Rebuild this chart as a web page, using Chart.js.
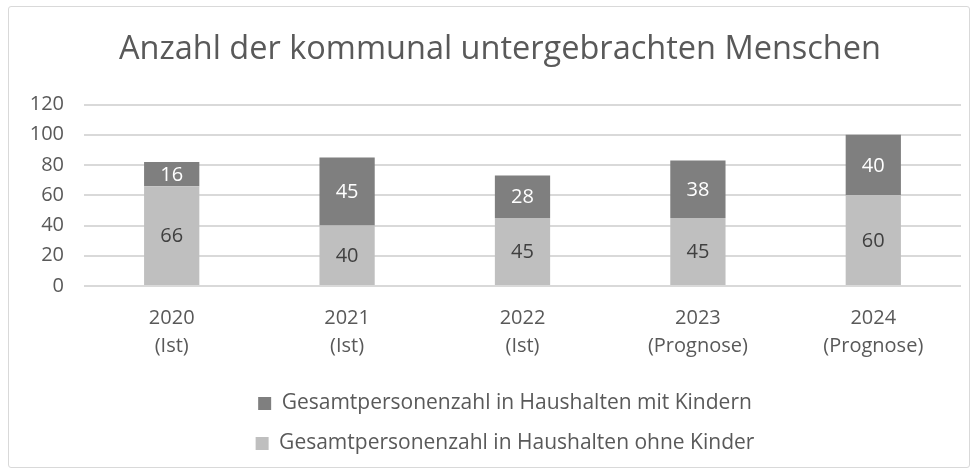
<!DOCTYPE html>
<html>
<head>
<meta charset="utf-8">
<script src="https://cdn.jsdelivr.net/npm/chart.js@4"></script>
<style>
  html, body { margin: 0; padding: 0; background: #fff; }
  #box {
    position: absolute; left: 8px; top: 6px;
    width: 960px; height: 460px;
    border: 1px solid #d9d9d9; border-radius: 3px;
  }
  canvas { display: block; }
</style>
</head>
<body>
<div id="box"><canvas id="chart" width="960" height="460"></canvas></div>
<script>
  const years = [['2020', '(Ist)'], ['2021', '(Ist)'], ['2022', '(Ist)'], ['2023', '(Prognose)'], ['2024', '(Prognose)']];
  const ohneKinder = [66, 40, 45, 45, 60];
  const mitKindern = [16, 45, 28, 38, 40];
  const yTicks = [0, 20, 40, 60, 80, 100, 120];

  const font = '"Open Sans", "DejaVu Sans", sans-serif';

  // draws the numbers in the middle of each bar segment
  const segmentLabels = {
    id: 'segmentLabels',
    afterDatasetsDraw(chart) {
      const ctx = chart.ctx;
      ctx.save();
      ctx.font = '20px ' + font;
      ctx.textAlign = 'center';
      ctx.textBaseline = 'middle';
      chart.data.datasets.forEach((ds, i) => {
        const meta = chart.getDatasetMeta(i);
        ctx.fillStyle = ds.labelColor;
        meta.data.forEach((bar, j) => {
          const y = (bar.y + bar.base) / 2;
          ctx.fillText(ds.data[j], bar.x, y + 1);
        });
      });
      ctx.restore();
    }
  };

  // title and legend sit a bit right of the canvas centre in the original
  const nudgeBoxes = {
    id: 'nudgeBoxes',
    afterLayout(chart) {
      const lg = chart.legend;
      lg.left += 20; lg.right += 20;
      const t = chart.titleBlock;
      t.left += 15; t.right += 15;
    }
  };

  new Chart(document.getElementById('chart').getContext('2d'), {
    type: 'bar',
    data: {
      labels: years,
      datasets: [{
        label: 'Gesamtpersonenzahl in Haushalten ohne Kinder',
        data: ohneKinder,
        backgroundColor: '#bfbfbf',
        labelColor: '#404040',
        categoryPercentage: 1,
        barPercentage: 0.315
      }, {
        label: 'Gesamtpersonenzahl in Haushalten mit Kindern',
        data: mitKindern,
        backgroundColor: '#7f7f7f',
        labelColor: '#ffffff',
        categoryPercentage: 1,
        barPercentage: 0.315
      }]
    },
    options: {
      responsive: false,
      animation: false,
      layout: { padding: { left: 0, right: 8, top: 0, bottom: 3 } },
      plugins: {
        title: {
          display: true,
          text: 'Anzahl der kommunal untergebrachten Menschen',
          color: '#595959',
          font: { family: font, size: 32.5, weight: 'normal', lineHeight: 1.2 },
          padding: { top: 23, bottom: 35.5 }
        },
        legend: {
          position: 'bottom',
          reverse: true,
          labels: {
            color: '#595959',
            font: { family: font, size: 21 },
            boxWidth: 13,
            boxHeight: 13,
            padding: 19
          }
        },
        tooltip: { enabled: false }
      },
      scales: {
        x: {
          stacked: true,
          grid: { display: false },
          border: { display: false },
          afterFit(scale) {
            scale.height = 88;
          },
          ticks: {
            color: '#595959',
            font: { family: font, size: 20, lineHeight: 1.4 },
            padding: 10,
            maxRotation: 0
          }
        },
        y: {
          stacked: true,
          min: 0,
          max: 120,
          afterBuildTicks(scale) {
            scale.ticks = yTicks.map(v => ({ value: v }));
          },
          afterFit(scale) {
            scale.width = 75;
          },
          grid: { color: '#d9d9d9', lineWidth: 2, drawTicks: false },
          border: { display: false },
          ticks: {
            color: '#595959',
            font: { family: font, size: 20 },
            padding: 20
          }
        }
      }
    },
    plugins: [segmentLabels, nudgeBoxes]
  });
</script>
</body>
</html>
